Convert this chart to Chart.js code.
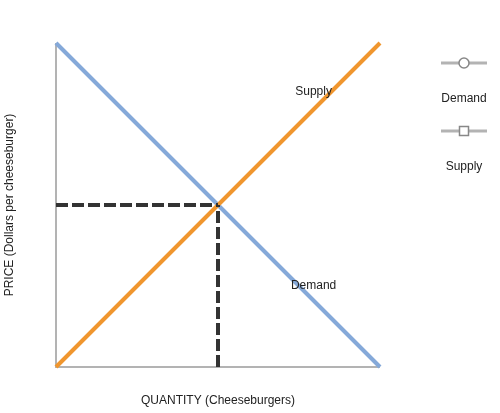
<!DOCTYPE html>
<html>
<head>
<meta charset="utf-8">
<script src="https://cdn.jsdelivr.net/npm/chart.js@4/dist/chart.umd.min.js"></script>
<style>
  html, body { margin: 0; padding: 0; background: #fff; }
  #wrap { width: 500px; height: 413px; }
</style>
</head>
<body>
<div id="wrap"><canvas id="c" width="500" height="413"></canvas></div>
<script>
// data
const demandX = [0, 10];
const demandY = [10, 0];
const supplyX = [0, 10];
const supplyY = [0, 10];
const eqX = 5;
const eqY = 5;
const lineLabels = [
  { text: "Supply", x: 7.95, y: 8.5 },
  { text: "Demand", x: 7.95, y: 2.5 }
];
const xTitle = "QUANTITY (Cheeseburgers)";
const yTitle = "PRICE (Dollars per cheeseburger)";

const toPts = (xs, ys) => xs.map((x, i) => ({ x: x, y: ys[i] }));

const FONT = "12px 'Liberation Sans', Arial, sans-serif";

// axes, titles, line labels and legend
const decorPlugin = {
  id: "decor",
  beforeDatasetsDraw(chart) {
    const { ctx, chartArea: a } = chart;
    ctx.save();
    ctx.strokeStyle = "#b3b3b3";
    ctx.lineWidth = 2;
    ctx.beginPath();
    ctx.moveTo(a.left, a.top);
    ctx.lineTo(a.left, a.bottom);
    ctx.lineTo(a.right, a.bottom);
    ctx.stroke();
    ctx.restore();
  },
  afterDatasetsDraw(chart) {
    const { ctx, chartArea: a, scales } = chart;
    ctx.save();
    ctx.font = FONT;
    ctx.fillStyle = "#222";
    ctx.textAlign = "center";
    ctx.textBaseline = "middle";
    lineLabels.forEach(l => {
      ctx.fillText(l.text, scales.x.getPixelForValue(l.x), scales.y.getPixelForValue(l.y));
    });
    ctx.fillText(xTitle, (a.left + a.right) / 2, 401);
    ctx.save();
    ctx.translate(10, (a.top + a.bottom) / 2);
    ctx.rotate(-Math.PI / 2);
    ctx.fillText(yTitle, 0, 0);
    ctx.restore();

    // legend
    const lx = 464;
    const items = [
      { name: "Demand", y: 63, shape: "circle" },
      { name: "Supply", y: 131, shape: "square" }
    ];
    items.forEach(it => {
      ctx.strokeStyle = "#b3b3b3";
      ctx.lineWidth = 3;
      ctx.beginPath();
      ctx.moveTo(lx - 23, it.y);
      ctx.lineTo(lx + 23, it.y);
      ctx.stroke();
      ctx.fillStyle = "#fff";
      ctx.strokeStyle = "#888";
      ctx.lineWidth = 1.5;
      ctx.beginPath();
      if (it.shape === "circle") {
        ctx.arc(lx, it.y, 5, 0, Math.PI * 2);
      } else {
        ctx.rect(lx - 4.5, it.y - 4.5, 9, 9);
      }
      ctx.fill();
      ctx.stroke();
      ctx.fillStyle = "#222";
      ctx.fillText(it.name, lx, it.y + 36);
    });
    ctx.restore();
  }
};

new Chart(document.getElementById("c"), {
  type: "scatter",
  data: {
    datasets: [
      {
        label: "Horizontal",
        data: [{ x: 0, y: eqY }, { x: eqX, y: eqY }],
        showLine: true,
        borderColor: "#333",
        borderWidth: 4,
        borderDash: [12, 4],
        pointRadius: 0,
        order: 1
      },
      {
        label: "Vertical",
        data: [{ x: eqX, y: 0 }, { x: eqX, y: eqY }],
        showLine: true,
        borderColor: "#333",
        borderWidth: 4,
        borderDash: [12, 4],
        pointRadius: 0,
        order: 1
      },
      {
        label: "Demand",
        data: toPts(demandX, demandY),
        showLine: true,
        borderColor: "#85a9d9",
        borderWidth: 4,
        pointRadius: 0,
        order: 3
      },
      {
        label: "Supply",
        data: toPts(supplyX, supplyY),
        showLine: true,
        borderColor: "#f0962e",
        borderWidth: 4,
        pointRadius: 0,
        order: 2
      }
    ]
  },
  options: {
    responsive: false,
    animation: false,
    clip: false,
    layout: { padding: { left: 56, top: 43, right: 120, bottom: 46 } },
    scales: {
      x: { type: "linear", min: 0, max: 10, display: false },
      y: { type: "linear", min: 0, max: 10, display: false }
    },
    plugins: {
      legend: { display: false },
      tooltip: { enabled: false }
    }
  },
  plugins: [decorPlugin]
});
</script>
</body>
</html>
